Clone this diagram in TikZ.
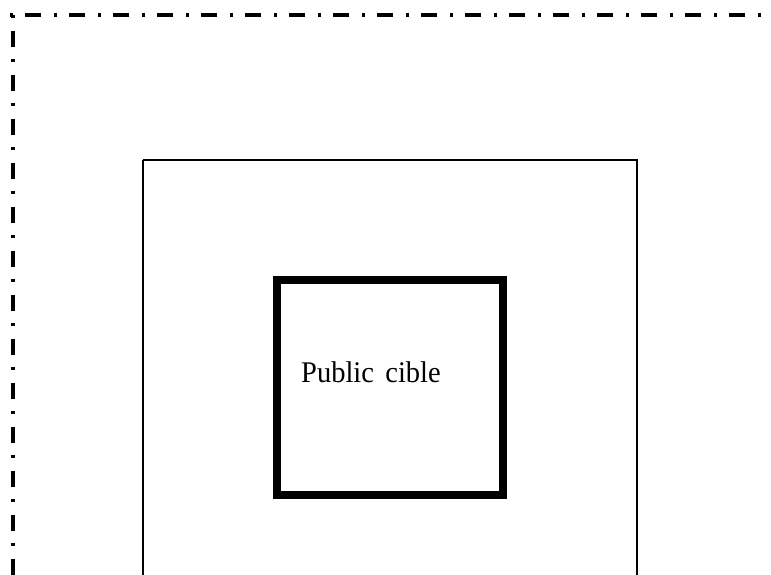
\documentclass[tikz,border=0pt]{standalone}
\usepackage{graphicx}
\usepackage{fontspec}
\setmainfont{Liberation Serif}
\tikzset{
  framedash/.style={line width=3.4pt, black},
  outerbox/.style={line width=1.8pt, black},
  innerbox/.style={line width=8pt, black},
  labeltext/.style={inner sep=0pt, anchor=base west, font=\fontsize{30}{36}\selectfont}
}
\begin{document}
\begin{tikzpicture}[x=1pt,y=-1pt]
\useasboundingbox (0,0) rectangle (771,574);
\clip (0,0) rectangle (771,574);
% dash-dot frame (top and left)
\draw[framedash, dash pattern=on 3pt off 12pt on 16pt off 13pt] (10,15) -- (790,15);
\draw[framedash, dash pattern=on 3pt off 13pt on 16pt off 12pt] (13,15) -- (13,600);
% outer thin box (cut at the bottom)
\draw[outerbox] (143,160) -- (637,160) -- (637,600) (143,160) -- (143,600);
% inner thick square
\draw[innerbox] (277,279.5) rectangle (502.7,495);
\node[labeltext] (label) at (301,382.3) {\scalebox{0.95}[1]{Public\hspace{0.4em}cible}};
\end{tikzpicture}
\end{document}
